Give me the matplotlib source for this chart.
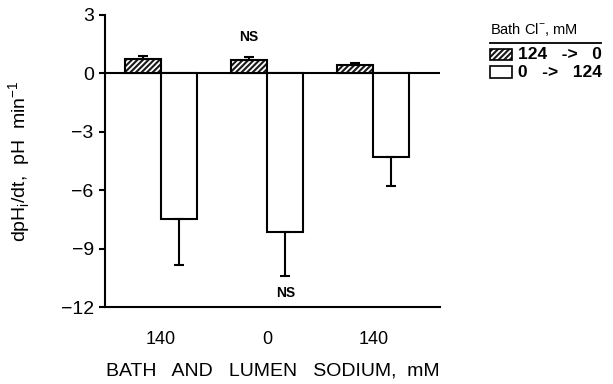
import numpy as np
import matplotlib.pyplot as plt
from matplotlib.patches import Rectangle

plt.rcParams['font.family'] = ['Liberation Sans', 'DejaVu Sans']
plt.rcParams['hatch.linewidth'] = 1.3

groups = ["140", "0", "140"]
cl_off = [0.74, 0.69, 0.43]       # 124 -> 0
cl_off_err = [0.17, 0.17, 0.12]
cl_on = [-7.5, -8.16, -4.28]      # 0 -> 124
cl_on_err = [2.35, 2.24, 1.5]

x = np.arange(len(groups))
w = 0.34
ekw = dict(ecolor='black', elinewidth=1.5, capsize=3.5, capthick=1.5)

fig = plt.figure(figsize=(6.13, 3.84), dpi=100)
ax = fig.add_axes([0.171, 0.2005, 0.547, 0.7605])

# dark bars with white diagonal stripes, then a black outline on top
ax.bar(x - w/2, cl_off, w, color='#1a1a1a', edgecolor='white', linewidth=0, hatch='//////')
ax.bar(x - w/2, cl_off, w, yerr=[np.zeros(3), cl_off_err], fill=False,
       edgecolor='black', linewidth=1.5, error_kw=ekw)
ax.bar(x + w/2, cl_on, w, yerr=[cl_on_err, np.zeros(3)], color='white',
       edgecolor='black', linewidth=1.5, error_kw=ekw)

ax.axhline(0, color='black', linewidth=1.5, zorder=0)

ax.set_xlim(-0.53, 2.63)
ax.set_ylim(-12, 3)
ax.set_yticks([3, 0, -3, -6, -9, -12])
ax.set_yticklabels(['3', '0', '\u22123', '\u22126', '\u22129', '\u221212'])
ax.set_xticks(x)
ax.set_xticklabels(groups)
ax.tick_params(axis='x', length=0, pad=17, labelsize=13)
ax.tick_params(axis='y', length=4, width=1.5, labelsize=14, pad=4)
for s in ['top', 'right']:
    ax.spines[s].set_visible(False)
for s in ['left', 'bottom']:
    ax.spines[s].set_linewidth(1.5)

ax.set_xlabel("BATH   AND   LUMEN   SODIUM,  mM", fontsize=14, labelpad=11)
ax.set_ylabel(r"dpH$_\mathregular{i}$/dt,  pH  min$^{\mathregular{-1}}$", fontsize=14, labelpad=20)

ax.text(x[1] - w/2, 1.85, "NS", ha='center', va='center', fontsize=10, fontweight='bold')
ax.text(x[1] + w/2, -11.28, "NS", ha='center', va='center', fontsize=10, fontweight='bold')

# legend drawn by hand in figure coordinates
fig.text(0.80, 0.922, r"Bath Cl$^{\mathregular{-}}$, mM", fontsize=10.5, va='center')
fig.add_artist(plt.Line2D([0.80, 0.98], [0.888, 0.888], color='black', linewidth=1.3))
fig.add_artist(Rectangle((0.80, 0.843), 0.035, 0.03, facecolor='#1a1a1a', edgecolor='white',
                         hatch='//////', linewidth=0, transform=fig.transFigure))
fig.add_artist(Rectangle((0.80, 0.843), 0.035, 0.03, fill=False, edgecolor='black',
                         linewidth=1.2, transform=fig.transFigure))
fig.text(0.845, 0.857, "124   ->   0", fontsize=12.5, va='center', fontweight='bold')
fig.add_artist(Rectangle((0.80, 0.798), 0.035, 0.03, facecolor='white', edgecolor='black',
                         linewidth=1.2, transform=fig.transFigure))
fig.text(0.845, 0.812, "0   ->   124", fontsize=12.5, va='center', fontweight='bold')

fig.savefig("out.png", dpi=100)
